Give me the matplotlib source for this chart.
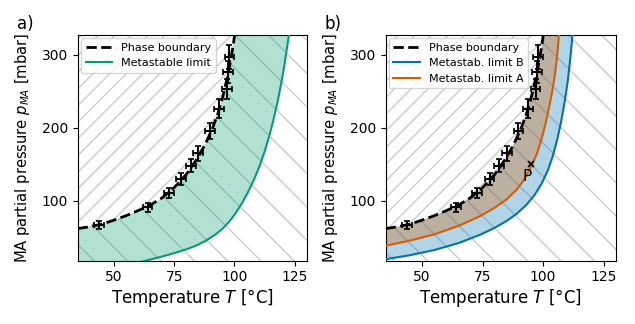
import numpy as np
import matplotlib
matplotlib.use('Agg')
import matplotlib.pyplot as plt

plt.rcParams['hatch.color'] = '0.8'
plt.rcParams['hatch.linewidth'] = 1.0

# measured points (T in degC, p in mbar)
T_data = [43.8, 64.0, 72.8, 77.9, 81.9, 85.0, 89.8, 93.7, 96.9, 97.4, 97.9]
p_data = [67, 91, 111, 130, 148, 165, 195, 226, 253, 276, 297]
T_err = [2, 2, 2, 2, 2, 2, 2, 2, 2, 2, 2]
p_err = [5, 6, 7, 8, 9, 10, 11, 13, 14, 15, 16]

# phase boundary (dashed)
T_pb = [35, 40, 45, 50, 55, 60, 65, 70, 75, 80, 85, 88, 91, 93, 95, 97, 98.5, 99.5, 100.3]
p_pb = [62, 64.5, 68, 73.5, 79.5, 86.5, 94, 104, 118, 136, 160, 178, 200, 218, 240, 268, 293, 313, 332]

# metastable limit (panel a)
T_ml = [60, 63.5, 68, 72, 76, 80, 84, 88, 92, 95, 98, 100.5, 103, 105.5, 108, 110.5,
        112.5, 114.5, 116.3, 118, 119.5, 120.8, 121.9, 122.6, 122.8]
p_ml = [15.5, 18.2, 22, 25.5, 29.3, 33.5, 38.5, 45, 53.5, 61.5, 72, 83, 96, 111, 128, 148,
        167, 189, 212, 237, 262, 287, 311, 327, 333]

# metastable limit A (orange) and B (blue), panel b
T_mA = [35, 45, 55, 65, 74, 80, 85, 89, 92, 95, 97.5, 99.5, 101.2, 102.6, 103.8, 104.8,
        105.6, 106.3, 106.6]
p_mA = [38.5, 45.5, 54, 65.5, 79, 90.5, 102, 115, 128, 146, 165, 186, 208, 230, 250, 270,
        292, 316, 332]
T_mB = [35, 45, 55, 65, 74, 80, 85, 89, 93, 96.5, 99.5, 102, 104, 106, 107.5, 109, 110.2,
        111.1, 111.8, 112.2]
p_mB = [20, 25.5, 32.5, 42, 53.5, 63, 72.5, 82, 94, 108, 124, 142, 161, 186, 209, 237, 264,
        290, 314, 330]

P_point = (95.2, 150)

xlim = (35, 130)
ylim = (18, 327)

green = '#029e73'
blue = '#0173b2'
orange = '#d55e00'


def background(ax):
    lo, hi = -10, 500
    # left of boundary: '//' hatch, right of it: '\' hatch
    xs = list(T_pb) + [T_pb[-1], T_pb[0]]
    ys = list(p_pb) + [hi, hi]
    ax.fill(xs, ys, facecolor='none', edgecolor='0.8', hatch='//', linewidth=0, zorder=0)
    xs = list(T_pb) + [T_pb[-1], 200, 200, T_pb[0]]
    ys = list(p_pb) + [hi, hi, lo, lo]
    ax.fill(xs, ys, facecolor='none', edgecolor='0.8', hatch='\\', linewidth=0, zorder=0)


def band(ax, T_lim, p_lim, color):
    xs = list(T_pb) + list(T_lim[::-1]) + [T_lim[0], T_pb[0]]
    ys = list(p_pb) + list(p_lim[::-1]) + [-10, -10]
    ax.fill(xs, ys, facecolor=color, alpha=0.3, linewidth=0, zorder=1)


def boundary(ax):
    ax.plot(T_pb, p_pb, '--', color='k', lw=2, zorder=4, label='Phase boundary')
    ax.errorbar(T_data, p_data, xerr=T_err, yerr=p_err, fmt='none', ecolor='k',
                elinewidth=1.5, capsize=2.5, capthick=1.2, zorder=5)


def style(ax):
    ax.set_xlim(*xlim)
    ax.set_ylim(*ylim)
    ax.set_xticks([50, 75, 100, 125])
    ax.set_yticks([100, 200, 300])
    ax.tick_params(labelsize=10)
    ax.set_xlabel('Temperature $T$ [°C]', fontsize=12, labelpad=2)
    ax.set_ylabel('MA partial pressure $p_{MA}$ [mbar]', fontsize=10.6, labelpad=7)
    ax.legend(loc='upper left', fontsize=8, borderaxespad=0.3, handlelength=2.4)


fig = plt.figure(figsize=(6.35, 3.24), dpi=100)

# a)
ax1 = fig.add_axes([0.1224, 0.1954, 0.3606, 0.6966])
background(ax1)
band(ax1, T_ml, p_ml, green)
boundary(ax1)
ax1.plot(T_ml, p_ml, color=green, lw=1.5, zorder=3, label='Metastable limit')
style(ax1)
fig.text(17 / 635, 1 - 29 / 324, 'a)', fontsize=12)

# b)
ax2 = fig.add_axes([0.6074, 0.1954, 0.3622, 0.6966])
background(ax2)
band(ax2, T_mB, p_mB, blue)
band(ax2, T_mA, p_mA, orange)
boundary(ax2)
ax2.plot(T_mB, p_mB, color=blue, lw=1.5, zorder=3, label='Metastab. limit B')
ax2.plot(T_mA, p_mA, color=orange, lw=1.5, zorder=3, label='Metastab. limit A')
ax2.plot(*P_point, 'x', color='k', ms=4, mew=1.2, zorder=6)
ax2.text(P_point[0] + 0.3, P_point[1] - 7, 'P', fontsize=11, ha='right', va='top')
style(ax2)
fig.text(325 / 635, 1 - 29 / 324, 'b)', fontsize=12)

fig.savefig('out.png', dpi=100)
